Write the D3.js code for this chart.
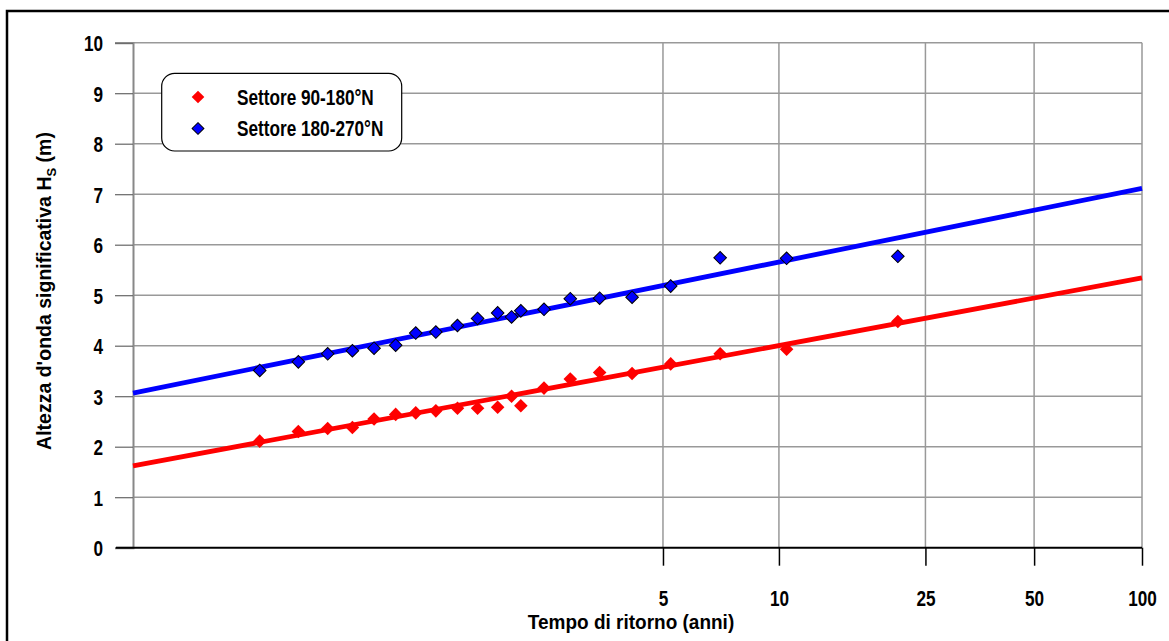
<!DOCTYPE html>
<meta charset="utf-8">
<style>
    body { margin: 0; background: #fff; }
    svg text { font-family: Arial, "Liberation Sans", sans-serif; font-weight: bold; fill: #000; }
</style>
<svg width="1169" height="641"></svg>
<script src="https://d3js.org/d3.v7.min.js"></script>
<script>

    // return periods shown on the x axis (Gumbel probability paper)
    var returnPeriods = [5, 10, 25, 50, 100];
    var hsTicks = [0, 1, 2, 3, 4, 5, 6, 7, 8, 9, 10];

    // plotting positions (Gumbel reduced variate) of the observed maxima
    var reducedVariate = [-1.11, -0.86, -0.67, -0.51, -0.37, -0.23, -0.10, 0.03, 0.17, 0.30, 0.43,
                          0.52, 0.58, 0.73, 0.90, 1.09, 1.30, 1.55, 1.87, 2.30, 3.02];
    var hsSector90 = [2.11, 2.30, 2.36, 2.38, 2.55, 2.64, 2.67, 2.71, 2.76, 2.76, 2.78,
                      3.00, 2.81, 3.16, 3.34, 3.47, 3.45, 3.64, 3.84, 3.93, 4.48];
    var hsSector180 = [3.51, 3.68, 3.84, 3.90, 3.95, 4.01, 4.25, 4.27, 4.40, 4.54, 4.65,
                       4.57, 4.69, 4.72, 4.93, 4.94, 4.96, 5.18, 5.74, 5.73, 5.77];

    // fitted Gumbel lines: Hs = u + alpha * y
    var seriesNames = ["Settore 90-180°N", "Settore 180-270°N"];
    var fitU = [2.72, 4.26];
    var fitAlpha = [0.570, 0.621];
    var seriesColors = ["#ff0000", "#0000ff"];

    function gumbel(T) { return -Math.log(-Math.log(1 - 1 / T)); }

    var svg = d3.select("svg");
    var plotLeft = 133, plotRight = 1142, plotTop = 42.7, plotBottom = 547.7;

    var x = d3.scaleLinear().domain([-1.93, gumbel(100)]).range([plotLeft, plotRight]);
    var y = d3.scaleLinear().domain([0, 10]).range([plotBottom, plotTop]);

    // outer frame
    svg.append("rect")
        .attr("x", 7).attr("y", 11).attr("width", 1250).attr("height", 700)
        .attr("fill", "none").attr("stroke", "#000").attr("stroke-width", 2.5);

    // grid
    svg.append("g").selectAll("line")
        .data(hsTicks.slice(1))
        .enter().append("line")
        .attr("x1", plotLeft).attr("x2", plotRight)
        .attr("y1", function (d) { return y(d); }).attr("y2", function (d) { return y(d); })
        .attr("stroke", "#999").attr("stroke-width", 1.5);

    svg.append("g").selectAll("line")
        .data(returnPeriods)
        .enter().append("line")
        .attr("x1", function (d) { return x(gumbel(d)); }).attr("x2", function (d) { return x(gumbel(d)); })
        .attr("y1", plotTop).attr("y2", plotBottom)
        .attr("stroke", "#999").attr("stroke-width", 1.5);

    // y axis
    var yAxis = svg.append("g")
        .attr("transform", "translate(" + plotLeft + ",0)")
        .call(d3.axisLeft(y).tickValues(hsTicks).tickSize(18).tickFormat(d3.format("d")));
    yAxis.select(".domain").attr("stroke", "#888").attr("stroke-width", 2);
    yAxis.selectAll(".tick line").attr("stroke", "#666").attr("stroke-width", 1.2);
    yAxis.selectAll(".tick text")
        .attr("x", -30 / 0.78).attr("dy", "0.36em")
        .attr("transform", "scale(0.78,1)")
        .style("font-size", "22px");

    // x axis
    var xAxis = svg.append("g")
        .attr("transform", "translate(0," + plotBottom + ")")
        .call(d3.axisBottom(x).tickValues(returnPeriods.map(gumbel)).tickSize(18)
            .tickFormat(function (d, i) { return returnPeriods[i]; }));
    xAxis.select(".domain").attr("stroke", "#000").attr("stroke-width", 2).attr("d", "M" + plotLeft + ",0H" + plotRight);
    xAxis.selectAll(".tick line").attr("stroke", "#000").attr("stroke-width", 1.5);
    xAxis.selectAll(".tick text")
        .attr("y", 58).attr("dy", null)
        .attr("transform", "scale(0.78,1)")
        .style("font-size", "22px");
    svg.append("line")
        .attr("x1", 116).attr("x2", plotLeft).attr("y1", plotBottom).attr("y2", plotBottom)
        .attr("stroke", "#000").attr("stroke-width", 2);

    // fitted lines
    var xDom = x.domain();
    svg.append("g").selectAll("line")
        .data(fitU)
        .enter().append("line")
        .attr("x1", x(xDom[0])).attr("x2", x(xDom[1]))
        .attr("y1", function (u, i) { return y(u + fitAlpha[i] * xDom[0]); })
        .attr("y2", function (u, i) { return y(u + fitAlpha[i] * xDom[1]); })
        .attr("stroke", function (d, i) { return seriesColors[i]; })
        .attr("stroke-width", 4.8);

    // markers
    var diamond = d3.symbol().type(d3.symbolSquare);
    [hsSector90, hsSector180].forEach(function (values, s) {
        svg.append("g").selectAll("path")
            .data(values)
            .enter().append("path")
            .attr("d", diamond.size(s === 0 ? 92 : 80)())
            .attr("transform", function (d, i) {
                return "translate(" + x(reducedVariate[i]) + "," + y(d) + ") rotate(45)";
            })
            .attr("fill", seriesColors[s])
            .attr("stroke", s === 0 ? "none" : "#000")
            .attr("stroke-width", 1);
    });

    // legend
    var legend = svg.append("g");
    legend.append("rect")
        .attr("x", 161.7).attr("y", 73.3).attr("width", 240).attr("height", 77.7)
        .attr("rx", 13).attr("ry", 13)
        .attr("fill", "#fff").attr("stroke", "#000").attr("stroke-width", 1.2);
    seriesNames.forEach(function (name, i) {
        var cy = 97 + i * 31.5;
        legend.append("path")
            .attr("d", diamond.size(i === 0 ? 80 : 70)())
            .attr("transform", "translate(198," + cy + ") rotate(45)")
            .attr("fill", seriesColors[i])
            .attr("stroke", i === 0 ? "none" : "#000");
        legend.append("text")
            .attr("transform", "translate(237," + (cy + 7.8) + ") scale(0.8,1)")
            .style("font-size", "21.5px")
            .text(name);
    });

    // axis titles
    svg.append("text")
        .attr("x", 631).attr("y", 629)
        .attr("text-anchor", "middle")
        .attr("transform", "translate(631,0) scale(0.95,1) translate(-631,0)")
        .style("font-size", "20px")
        .text("Tempo di ritorno (anni)");

    var yTitle = svg.append("text")
        .attr("transform", "translate(51,291) rotate(-90)")
        .attr("text-anchor", "middle")
        .style("font-size", "19.5px");
    yTitle.append("tspan").text("Altezza d'onda significativa H");
    yTitle.append("tspan").attr("dy", 5).style("font-size", "13px").text("S");
    yTitle.append("tspan").attr("dy", -5).text(" (m)");

</script>
